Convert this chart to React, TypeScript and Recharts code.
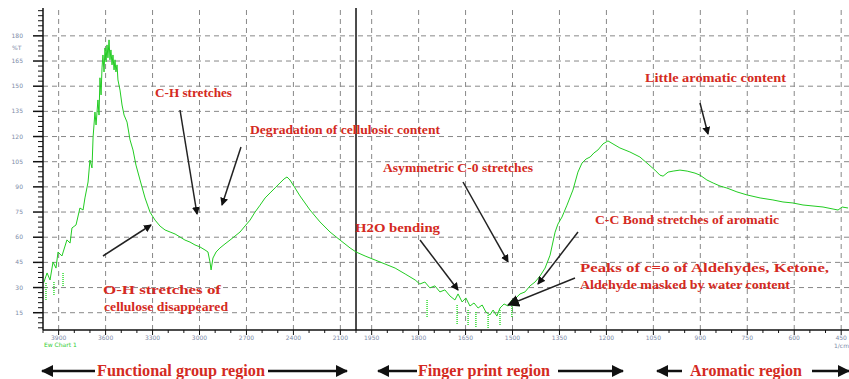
import React from "react";
import { ComposedChart, Line, XAxis, YAxis, ReferenceLine } from "recharts";

// wavenumber (1/cm) and %T
const WAVENUMBERS = [
  3995, 3974, 3955, 3936, 3917, 3904, 3879, 3847, 3827, 3815, 3789, 3764, 3744, 3732, 3712,
  3700, 3687, 3680, 3668, 3661, 3649, 3642, 3636, 3629, 3623, 3617, 3610, 3604, 3597, 3591,
  3585, 3578, 3572, 3566, 3559, 3553, 3546, 3540, 3534, 3527, 3521, 3508, 3495, 3482, 3463,
  3444, 3425, 3406, 3380, 3348, 3316, 3284, 3252, 3220, 3188, 3156, 3124, 3093, 3061, 3029,
  2997, 2965, 2946, 2933, 2926, 2914, 2894, 2869, 2837, 2805, 2773, 2741, 2709, 2677, 2645,
  2613, 2581, 2549, 2517, 2486, 2460, 2441, 2422, 2390, 2358, 2326, 2294, 2230, 2166, 2102,
  2038, 2000, 1971, 1939, 1907, 1875, 1843, 1811, 1796, 1780, 1764, 1748, 1732, 1716, 1700,
  1684, 1674, 1661, 1649, 1636, 1623, 1610, 1597, 1585, 1572, 1562, 1550, 1540, 1527, 1514,
  1502, 1489, 1476, 1460, 1444, 1428, 1412, 1396, 1380, 1364, 1355, 1342, 1326, 1307, 1291,
  1278, 1265, 1252, 1240, 1227, 1211, 1195, 1179, 1157, 1125, 1093, 1067, 1045, 1029, 1019,
  1003, 987, 965, 942, 917, 901, 879, 859, 837, 815, 783, 751, 709, 668, 636,
  604, 572, 540, 508, 476, 460, 447, 428,
];
const TRANSMITTANCE = [
  33, 38.7, 34.5, 45.2, 41.6, 51.2, 48.8, 58.4, 56.5, 65.5, 67.3, 77.4, 76.2, 83.4, 92.9,
  106, 101.3, 119.7, 134.6, 126.9, 141.8, 132.8, 155, 144.8, 160.9, 168.6, 158.5, 172.8, 164.5, 174.6,
  166.9, 177.6, 165.7, 171.6, 162.7, 168.6, 159.7, 165.7, 158.5, 162.7, 153.7, 147.7, 138.8, 132.8, 128.6,
  118, 112, 103, 94.1, 83.4, 74.9, 70.2, 66.6, 64.3, 63.1, 61.9, 60.1, 58.3, 57.1, 55.4,
  54.2, 52.4, 51.2, 45.2, 40.5, 47.6, 51.2, 53.6, 56, 58.3, 60.7, 63.1, 66.7, 70.2, 75,
  79.1, 83.4, 86.4, 89.4, 92.3, 94.7, 95.9, 94.1, 89.4, 84.6, 80.4, 76.2, 69.1, 63.1, 58.3,
  53.6, 51.2, 48.8, 46.4, 44, 41.6, 38.1, 34.5, 32.1, 33.3, 29.8, 31, 27.4, 28.6, 25,
  22.6, 26.2, 21.4, 23.8, 19, 20.8, 17.8, 19.6, 15.4, 13.7, 16.6, 13, 17.8, 20.2, 19,
  22.6, 23.8, 26.2, 27.4, 31, 33.3, 36.9, 41.6, 49.3, 63, 67.8, 72, 79.1, 88.1, 98.8,
  104.2, 106.6, 107.8, 110.2, 112, 115.6, 117.4, 115.6, 113.2, 110.8, 107.8, 103.6, 100, 97, 96.4,
  98.8, 99.4, 100, 99.4, 98.2, 97, 94.1, 92.3, 90.5, 89.3, 87, 85.2, 83.4, 82.2, 81,
  80.4, 79.2, 78.6, 78, 76.8, 76.2, 78, 77.4,
];

// dotted noise spikes: wavenumber, top %T, bottom %T
const SPIKE_WAVENUMBERS = [3981, 3930, 3872, 1773, 1677, 1642, 1617, 1578, 1540, 1502];
const SPIKE_TOPS = [32.7, 33.3, 38.7, 22.6, 19.6, 16.6, 15.4, 13.6, 16.6, 22.6];
const SPIKE_BOTTOMS = [22.6, 25.6, 30.3, 11.8, 7.7, 7.1, 6.5, 5.9, 7.1, 11.8];

const X_TICK_LABELS = [
  3900, 3600, 3300, 3000, 2700, 2400, 2100, 1950, 1800, 1650, 1500, 1350, 1200, 1050, 900, 750, 600, 450,
];
const Y_TICK_LABELS = [15, 30, 45, 60, 75, 90, 105, 120, 135, 150, 165, 180];

// 4000-2000 at half scale, 2000-400 expanded x2
const toPos = (wn: number) => (wn >= 2000 ? 4000 - wn : 2000 + (2000 - wn) * 2);
const fromPos = (p: number) => (p <= 2000 ? 4000 - p : 2000 - (p - 2000) / 2);

const X_MAX = toPos(425);
const Y_MIN = 4.7;
const Y_MAX = 196.6;

const curve = WAVENUMBERS.map((wn, i) => ({ pos: toPos(wn), t: TRANSMITTANCE[i] }));
const spikes: { pos: number; s: number | null }[] = [];
SPIKE_WAVENUMBERS.forEach((wn, i) => {
  spikes.push({ pos: toPos(wn), s: SPIKE_TOPS[i] });
  spikes.push({ pos: toPos(wn), s: SPIKE_BOTTOMS[i] });
  spikes.push({ pos: toPos(wn), s: null });
});

const xMajor = X_TICK_LABELS.map(toPos);
const xTicks: number[] = [];
for (let p = 0; p <= X_MAX; p += 100) xTicks.push(p);
const yTicks: number[] = [];
for (let v = 6; v <= 195; v += 3) yTicks.push(v);

const LABEL_COLOR = "#7d8aa8";

const YTick = ({ x, y, payload }: any) => {
  const major = Y_TICK_LABELS.includes(payload.value);
  return (
    <g>
      <line x1={x - (major ? 10 : 5)} x2={x} y1={y} y2={y} stroke="#111" strokeWidth={major ? 1.5 : 1} />
      {major && (
        <text x={x - 20} y={y + 2} textAnchor="end" fontSize={6} fill={LABEL_COLOR} fontFamily="DejaVu Sans">
          {payload.value}
        </text>
      )}
    </g>
  );
};

const XTick = ({ x, y, payload }: any) => {
  const major = xMajor.includes(payload.value);
  return (
    <g>
      <line x1={x} x2={x} y1={y} y2={y + (major ? 5 : 3)} stroke="#111" strokeWidth={1} />
      {major && (
        <text x={x} y={y + 10} textAnchor="middle" fontSize={6} fill={LABEL_COLOR} fontFamily="DejaVu Sans">
          {Math.round(fromPos(payload.value))}
        </text>
      )}
    </g>
  );
};

const ARROWS = [
  [180, 110, 197, 214],
  [241, 147, 222, 205],
  [103, 256, 151, 225],
  [420, 240, 458, 290],
  [463, 182, 508, 262],
  [578, 232, 538, 284],
  [575, 278, 508, 305],
  [700, 103, 708, 134],
];
const BOTTOM_ARROWS = [
  [95, 42], [268, 347], [417, 378], [558, 623], [682, 657], [812, 849],
];
const NOTES: [string, number, number, number][] = [
  ["C-H stretches", 155, 97, 77],
  ["Degradation  of cellulosic content", 250, 134, 190],
  ["Asymmetric  C-0 stretches", 383, 172, 150],
  ["Little  aromatic content", 645, 82, 141],
  ["H2O bending", 355, 232, 85],
  ["C-C Bond stretches  of aromatic", 595, 224, 184],
  ["Peaks of c=o of Aldehydes, Ketone,", 580, 272, 249],
  ["Aldehyde masked  by water content", 580, 289, 210],
  ["O-H stretches  of", 103, 294, 118],
  ["cellulose disappeared", 104, 311, 124],
];
const REGIONS: [string, number, number][] = [
  ["Functional group region", 97, 168],
  ["Finger print region", 418, 132],
  ["Aromatic region", 690, 112],
];

const Overlay = () => (
  <svg width={849} height={379} style={{ position: "absolute", left: 0, top: 0, pointerEvents: "none" }}>
    <defs>
      <marker id="head" markerWidth="8" markerHeight="8" refX="7" refY="4" orient="auto" markerUnits="userSpaceOnUse">
        <path d="M0,0 L8,4 L0,8 z" fill="#111" />
      </marker>
      <marker id="bighead" markerWidth="12" markerHeight="12" refX="11" refY="6" orient="auto" markerUnits="userSpaceOnUse">
        <path d="M0,0 L12,6 L0,12 z" fill="#111" />
      </marker>
    </defs>
    {ARROWS.map(([x1, y1, x2, y2], i) => (
      <line key={i} x1={x1} y1={y1} x2={x2} y2={y2} stroke="#222" strokeWidth={1.5}
        markerEnd={i === 6 ? "url(#bighead)" : "url(#head)"} />
    ))}
    {BOTTOM_ARROWS.map(([x1, x2], i) => (
      <line key={i} x1={x1} y1={371} x2={x2} y2={371} stroke="#111" strokeWidth={2.5} markerEnd="url(#bighead)" />
    ))}
    {NOTES.map(([t, x, y, w]) => (
      <text key={t} x={x} y={y} fontSize={12} fontWeight="bold" fill="#d42a22" fontFamily="Liberation Serif"
        textLength={w} lengthAdjust="spacingAndGlyphs">
        {t}
      </text>
    ))}
    {REGIONS.map(([t, x, w]) => (
      <text key={t} x={x} y={376} fontSize={16} fontWeight="bold" fill="#d42a22" fontFamily="Liberation Serif"
        textLength={w} lengthAdjust="spacingAndGlyphs">
        {t}
      </text>
    ))}
    <text x={12} y={50} fontSize={6} fill={LABEL_COLOR} fontFamily="DejaVu Sans">%T</text>
    <text x={44} y={347} fontSize={6} fill="#3c3" fontFamily="DejaVu Sans">Ew Chart 1</text>
    <text x={834} y={348} fontSize={6} fill={LABEL_COLOR} fontFamily="DejaVu Sans">1/cm</text>
  </svg>
);

export default function App() {
  return (
    <div style={{ position: "absolute", left: 0, top: 0, width: 849, height: 379, background: "#fff" }}>
      <ComposedChart width={849} height={379} margin={{ top: 8, right: 0, bottom: 29, left: 0 }}>
        <XAxis
          type="number"
          dataKey="pos"
          domain={[0, X_MAX]}
          ticks={xTicks}
          interval={0}
          tick={<XTick />}
          tickLine={false}
          tickSize={0}
          tickMargin={0}
          height={20}
          axisLine={{ stroke: "#111", strokeWidth: 1.5 }}
          allowDataOverflow
        />
        <YAxis
          type="number"
          domain={[Y_MIN, Y_MAX]}
          ticks={yTicks}
          interval={0}
          tick={<YTick />}
          tickLine={false}
          tickSize={0}
          tickMargin={0}
          width={43}
          axisLine={{ stroke: "#111", strokeWidth: 1.5 }}
          allowDataOverflow
        />
        {Y_TICK_LABELS.map((v) => (
          <ReferenceLine key={`h${v}`} y={v} stroke="#888" strokeDasharray="5 4" />
        ))}
        {xMajor.map((p) => (
          <ReferenceLine key={`v${p}`} x={p} stroke="#888" strokeDasharray="5 4" />
        ))}
        <ReferenceLine x={toPos(2000)} stroke="#111" strokeWidth={1.5} />
        <Line data={spikes} dataKey="s" type="linear" stroke="#33dd33" strokeWidth={1.5}
          strokeDasharray="1 1" dot={false} connectNulls={false} isAnimationActive={false} />
        <Line data={curve} dataKey="t" type="linear" stroke="#22cc22" strokeWidth={1}
          dot={false} isAnimationActive={false} />
      </ComposedChart>
      <Overlay />
    </div>
  );
}
